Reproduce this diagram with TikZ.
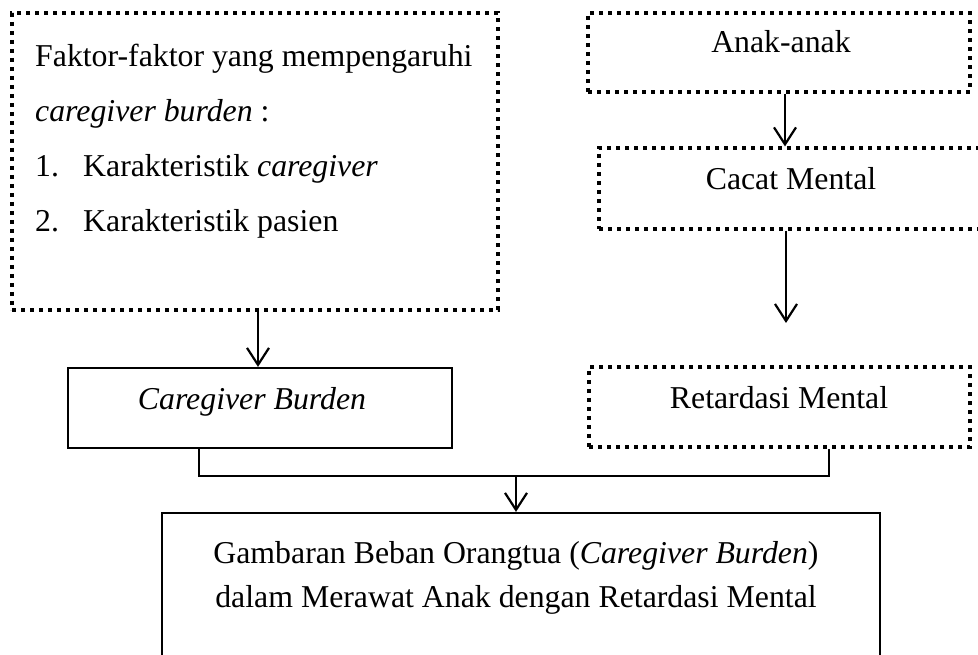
\documentclass[tikz,border=0pt]{standalone}
\usepackage{fontspec}
\setmainfont{Liberation Serif}
\usetikzlibrary{arrows.meta}
\begin{document}
\begin{tikzpicture}[x=1pt,y=-1pt,
  dotbox/.style={draw, line width=3.2pt, dash pattern=on 3.6pt off 5.4pt, inner sep=0pt},
  solidbox/.style={draw, line width=2.2pt, inner sep=0pt},
  conn/.style={line width=2.2pt},
  arr/.style={conn, -{Straight Barb[length=17pt,width=22pt]}},
  txt/.style={font=\fontsize{31.8}{38}\selectfont, inner sep=0pt}
]
\useasboundingbox (0,0) rectangle (978,655);
\clip (0,0) rectangle (978,655);

% boxes
\node[dotbox, minimum width=486pt, minimum height=297pt] (left) at (255,161.5) {};
\node[dotbox, minimum width=382pt, minimum height=79pt] (anak) at (779,52.5) {};
\node[dotbox, minimum width=384pt, minimum height=81pt] (cacat) at (791,188.5) {};
\node[dotbox, minimum width=381pt, minimum height=80pt] (ret) at (779.5,407) {};
\node[solidbox, minimum width=384pt, minimum height=80pt] (cg) at (260,408) {};
\node[solidbox, minimum width=718pt, minimum height=187pt] (bot) at (521,606.5) {};

% texts
\node[txt, anchor=base west] (l1) at (35,67) {Faktor-faktor yang mempengaruhi};
\node[txt, anchor=base west] (l2) at (35,122) {\textit{caregiver burden} :};
\node[txt, anchor=base west] (n1) at (35,177) {1.};
\node[txt, anchor=base west] (l3) at (83,177) {Karakteristik \textit{caregiver}};
\node[txt, anchor=base west] (n2) at (35,232) {2.};
\node[txt, anchor=base west] (l4) at (83,232) {Karakteristik pasien};
\node[txt, anchor=base] (tanak) at (781,53) {Anak-anak};
\node[txt, anchor=base] (tcacat) at (791,190) {Cacat Mental};
\node[txt, anchor=base] (tret) at (779,408) {Retardasi Mental};
\node[txt, anchor=base] (tcg) at (252,409) {\textit{Caregiver Burden}};
\node[txt, anchor=base] (tb1) at (516,563) {Gambaran Beban Orangtua (\textit{Caregiver Burden})};
\node[txt, anchor=base] (tb2) at (516,607) {dalam Merawat Anak dengan Retardasi Mental};

% connectors
\coordinate (cfree) at (786,323);
\coordinate (j) at (516,476);
\draw[arr] ([xshift=-2pt]left.south -| cg.north) -- ([xshift=-2pt]cg.north);
\draw[arr] ([xshift=6pt]anak.south) -- ([xshift=6pt]anak.south |- cacat.north);
\draw[arr] (cacat.south -| cfree) -- (cfree);
\draw[conn] ([xshift=-61pt]cg.south) |- (j) -| ([xshift=49.5pt]ret.south);
\draw[arr] (j) -- (j |- bot.north);
\end{tikzpicture}
\end{document}
